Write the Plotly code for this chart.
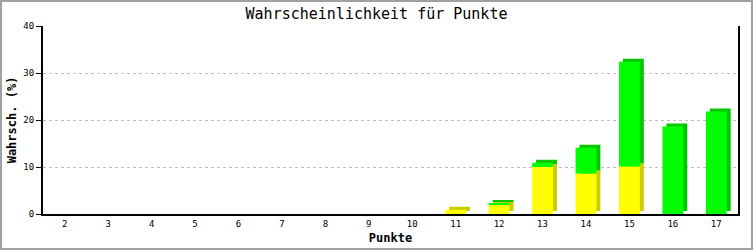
import plotly.graph_objects as go

punkte = list(range(2, 18))
gelb = [0, 0, 0, 0, 0, 0, 0, 0, 0, 0.9, 2.0, 10.0, 8.6, 10.1, 0, 0]
gruen = [0, 0, 0, 0, 0, 0, 0, 0, 0, 0, 0.2, 0.9, 5.5, 22.3, 18.6, 21.8]

W, H = 753, 250
ML, MR, MT, MB = 43, 15, 26, 36
YMAX = 40
plot_w = W - ML - MR
plot_h = H - MT - MB
dx = 4 * (16 / plot_w)      # 3D depth in x units
dy = 3 * (YMAX / plot_h)    # 3D depth in y units
bw = 0.48

fig = go.Figure()

yellow_x = [p for p, v in zip(punkte, gelb) if v > 0]
yellow_v = [v for v in gelb if v > 0]
green_x = [p for p, v in zip(punkte, gruen) if v > 0]
green_v = [v for v in gruen if v > 0]
green_base = [g for g, v in zip(gelb, gruen) if v > 0]

# dark (depth) faces
fig.add_trace(go.Bar(x=yellow_x, y=yellow_v, base=[dy] * len(yellow_v),
                     width=bw, offset=-bw / 2 + dx, marker_color="#cccc00",
                     marker_line_width=0, hoverinfo="skip", showlegend=False))
fig.add_trace(go.Bar(x=green_x, y=green_v, base=[b + dy for b in green_base],
                     width=bw, offset=-bw / 2 + dx, marker_color="#00c800",
                     marker_line_width=0, hoverinfo="skip", showlegend=False))
# front faces
fig.add_trace(go.Bar(x=yellow_x, y=yellow_v, base=[0] * len(yellow_v),
                     width=bw, offset=-bw / 2, marker_color="#ffff00",
                     marker_line_width=0, name="gelb", showlegend=False))
fig.add_trace(go.Bar(x=green_x, y=green_v, base=green_base,
                     width=bw, offset=-bw / 2, marker_color="#00ff00",
                     marker_line_width=0, name="grün", showlegend=False))

font = "DejaVu Sans Mono"
fig.update_layout(
    width=W, height=H,
    margin=dict(l=ML, r=MR, t=MT, b=MB, autoexpand=False),
    barmode="overlay",
    paper_bgcolor="white", plot_bgcolor="white",
    font=dict(family=font, color="black"),
    title=dict(text="Wahrscheinlichkeit für Punkte", x=0.5, xanchor="center",
               y=1 - 14 / H, yanchor="middle", font=dict(size=15, family=font)),
    xaxis=dict(range=[1.5, 17.5], tickmode="array", tickvals=punkte,
               ticktext=[str(p) for p in punkte], showgrid=False,
               showline=True, linecolor="black", linewidth=2, ticks="",
               tickfont=dict(size=9, family=font), zeroline=False, automargin=False,
               title=dict(text="<b>Punkte</b>", font=dict(size=12, family=font), standoff=6)),
    yaxis=dict(range=[0, YMAX], tickvals=[0, 10, 20, 30, 40],
               showline=True, linecolor="black", linewidth=2, mirror=True,
               ticks="outside", ticklen=5, tickcolor="black", tickwidth=1,
               showgrid=True, gridcolor="#c0c0c0", griddash="dot", gridwidth=1,
               zeroline=False, tickfont=dict(size=9, family=font), automargin=False,
               title=dict(text="<b>Wahrsch. (%)</b>", font=dict(size=12, family=font), standoff=4)),
    shapes=[dict(type="rect", xref="paper", yref="paper",
                 x0=-(ML - 1) / plot_w, x1=1 + (MR - 1) / plot_w,
                 y0=-(MB - 1) / plot_h, y1=1 + (MT - 1) / plot_h,
                 line=dict(color="#a0a0a0", width=2), layer="below")],
)

fig.write_html("out.html")
